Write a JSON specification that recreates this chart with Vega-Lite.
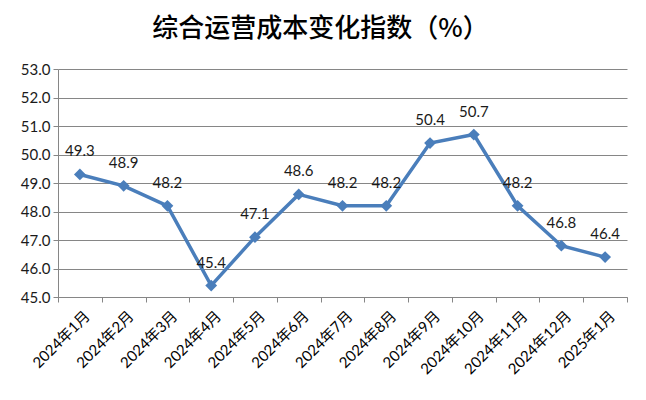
{
  "$schema": "https://vega.github.io/schema/vega-lite/v6.json",
  "autosize": {"type": "none"},
  "width": 569,
  "height": 228,
  "padding": {"left": 58, "top": 69, "right": 19, "bottom": 103},
  "background": "white",
  "title": {
    "text": "综合运营成本变化指数（%）",
    "font": "Noto Sans CJK SC",
    "fontSize": 26,
    "fontWeight": 500,
    "color": "#000000",
    "anchor": "middle",
    "frame": "group",
    "dx": -22,
    "offset": 20
  },
  "data": {
    "values": [
      {"month": "2024年1月", "value": 49.3},
      {"month": "2024年2月", "value": 48.9},
      {"month": "2024年3月", "value": 48.2},
      {"month": "2024年4月", "value": 45.4},
      {"month": "2024年5月", "value": 47.1},
      {"month": "2024年6月", "value": 48.6},
      {"month": "2024年7月", "value": 48.2},
      {"month": "2024年8月", "value": 48.2},
      {"month": "2024年9月", "value": 50.4},
      {"month": "2024年10月", "value": 50.7},
      {"month": "2024年11月", "value": 48.2},
      {"month": "2024年12月", "value": 46.8},
      {"month": "2025年1月", "value": 46.4}
    ]
  },
  "encoding": {
    "x": {
      "field": "month",
      "type": "ordinal",
      "sort": null,
      "scale": {"type": "band", "paddingInner": 0, "paddingOuter": 0},
      "axis": {
        "title": null,
        "tickBand": "extent",
        "labelAngle": -45,
        "labelAlign": "right",
        "labelBaseline": "middle",
        "labelFont": "Lato, Noto Sans CJK SC",
        "labelFontSize": 15,
        "labelColor": "#000000",
        "labelPadding": 11,
        "labelOffset": 7,
        "domainColor": "#868686",
        "tickColor": "#868686",
        "tickSize": 5,
        "grid": false
      }
    },
    "y": {
      "field": "value",
      "type": "quantitative",
      "scale": {"domain": [45, 53], "nice": false, "zero": false},
      "axis": {
        "title": null,
        "values": [45, 46, 47, 48, 49, 50, 51, 52, 53],
        "format": ".1f",
        "labelFont": "Lato",
        "labelFontSize": 15,
        "labelColor": "#1a1a1a",
        "labelPadding": 3,
        "domainColor": "#868686",
        "tickColor": "#868686",
        "tickSize": 5,
        "grid": true,
        "gridColor": "#868686",
        "gridWidth": 1
      }
    }
  },
  "layer": [
    {
      "mark": {"type": "line", "color": "#4a7ebb", "strokeWidth": 3.5, "interpolate": "linear"}
    },
    {
      "mark": {"type": "point", "shape": "diamond", "filled": true, "size": 140, "color": "#4a7ebb", "opacity": 1}
    },
    {
      "mark": {"type": "text", "dy": -23, "font": "Lato", "fontSize": 15, "color": "#1a1a1a"},
      "encoding": {"text": {"field": "value", "type": "quantitative", "format": ".1f"}}
    }
  ],
  "config": {
    "view": {"stroke": null}
  }
}
